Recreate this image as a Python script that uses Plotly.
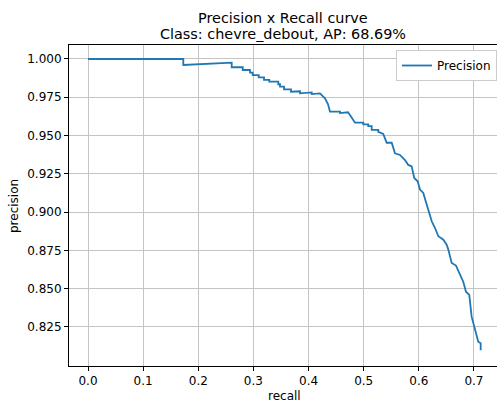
import plotly.graph_objects as go

recall = [0.0, 0.1728, 0.1728, 0.2606, 0.2606, 0.2806, 0.2806, 0.2938, 0.2938, 0.2987,
          0.2987, 0.3096, 0.3096, 0.3192, 0.3192, 0.3288, 0.3288, 0.3451, 0.3451, 0.3482,
          0.3482, 0.3555, 0.3555, 0.3682, 0.3682, 0.3845, 0.3845, 0.4057, 0.4057, 0.4207,
          0.4298, 0.4352, 0.4389, 0.4570, 0.4570, 0.4715, 0.4751, 0.4806, 0.4842, 0.4993,
          0.4993, 0.5083, 0.5083, 0.5145, 0.5145, 0.5265, 0.5265, 0.5355, 0.5417, 0.5508,
          0.5568, 0.5658, 0.5749, 0.5809, 0.5870, 0.5917, 0.5978, 0.6021, 0.6081, 0.6125,
          0.6185, 0.6234, 0.6294, 0.6354, 0.6445, 0.6505, 0.6535, 0.6596, 0.6674, 0.6746,
          0.6806, 0.6855, 0.6915, 0.6958, 0.7018, 0.7060, 0.7078, 0.7122, 0.7122]
precision = [1.0, 1.0, 0.9961, 0.9976, 0.9946, 0.9946, 0.9928, 0.9928, 0.9911, 0.9911,
             0.9895, 0.9895, 0.9880, 0.9880, 0.9863, 0.9863, 0.9852, 0.9852, 0.9835, 0.9835,
             0.9819, 0.9819, 0.9802, 0.9802, 0.9786, 0.9789, 0.9776, 0.9782, 0.9771, 0.9775,
             0.9743, 0.9706, 0.9656, 0.9656, 0.9647, 0.9652, 0.9634, 0.9608, 0.9584, 0.9584,
             0.9573, 0.9573, 0.9562, 0.9562, 0.9537, 0.9537, 0.9524, 0.9511, 0.9453, 0.9453,
             0.9384, 0.9373, 0.9340, 0.9308, 0.9299, 0.9223, 0.9201, 0.9147, 0.9125, 0.9070,
             0.9005, 0.8940, 0.8896, 0.8842, 0.8820, 0.8787, 0.8755, 0.8668, 0.8651, 0.8589,
             0.8545, 0.8480, 0.8459, 0.8317, 0.8241, 0.8176, 0.8153, 0.8143, 0.8097]

x_ticks = [0.0, 0.1, 0.2, 0.3, 0.4, 0.5, 0.6, 0.7]
x_tick_labels = ["0.0", "0.1", "0.2", "0.3", "0.4", "0.5", "0.6", "0.7"]
y_ticks = [0.825, 0.85, 0.875, 0.9, 0.925, 0.95, 0.975, 1.0]
y_tick_labels = ["0.825", "0.850", "0.875", "0.900", "0.925", "0.950", "0.975", "1.000"]

title_line1 = "Precision x Recall curve"
title_line2 = "Class: chevre_debout, AP: 68.69%"

FONT = "DejaVu Sans"

fig = go.Figure()
fig.add_trace(go.Scatter(x=recall, y=precision, mode="lines", name="Precision",
                         line=dict(color="#1f77b4", width=1.8)))

W, H = 497, 406
L, R, T, B = 69, 0, 45, 40
ph = H - T - B

def py(Y):
    return (H - B - Y) / ph

def px(X):
    return (X - L) / (W - L - R)

fig.update_layout(
    width=W, height=H,
    margin=dict(l=L, r=R, t=T, b=B),
    paper_bgcolor="white", plot_bgcolor="white",
    font=dict(family=FONT, size=12, color="black"),
    showlegend=True,
    legend=dict(x=px(396), y=py(50), xanchor="left", yanchor="top",
                bgcolor="white", bordercolor="#cccccc", borderwidth=1,
                font=dict(size=12, family=FONT)),
    xaxis=dict(range=[-0.0345, 0.7418], tickvals=x_ticks, ticktext=x_tick_labels,
               showgrid=True, gridcolor="#c4c4c4", gridwidth=1.2,
               showline=True, linecolor="black", linewidth=1, mirror=True,
               ticks="outside", ticklen=4, tickcolor="black", zeroline=False,
               tickfont=dict(size=12, family=FONT)),
    yaxis=dict(range=[0.79947, 1.00914], tickvals=y_ticks, ticktext=y_tick_labels,
               showgrid=True, gridcolor="#c4c4c4", gridwidth=1.2,
               showline=True, linecolor="black", linewidth=1, mirror=False,
               ticks="outside", ticklen=4, tickcolor="black", zeroline=False,
               tickfont=dict(size=12, family=FONT)),
    annotations=[
        dict(text=title_line1, x=0.5, y=py(18), xref="paper", yref="paper",
             showarrow=False, xanchor="center", yanchor="middle",
             font=dict(size=14.4, family=FONT)),
        dict(text=title_line2, x=0.5, y=py(34), xref="paper", yref="paper",
             showarrow=False, xanchor="center", yanchor="middle",
             font=dict(size=14.4, family=FONT)),
        dict(text="recall", x=px(284), y=py(396), xref="paper", yref="paper",
             showarrow=False, xanchor="center", yanchor="middle",
             font=dict(size=12, family=FONT)),
        dict(text="precision", x=px(14), y=py(206), xref="paper", yref="paper",
             showarrow=False, xanchor="center", yanchor="middle", textangle=-90,
             font=dict(size=12, family=FONT)),
    ],
)

fig.write_html("out.html",
               config={"displayModeBar": False},
               post_script="document.body.style.margin='0';document.body.style.padding='0';")
